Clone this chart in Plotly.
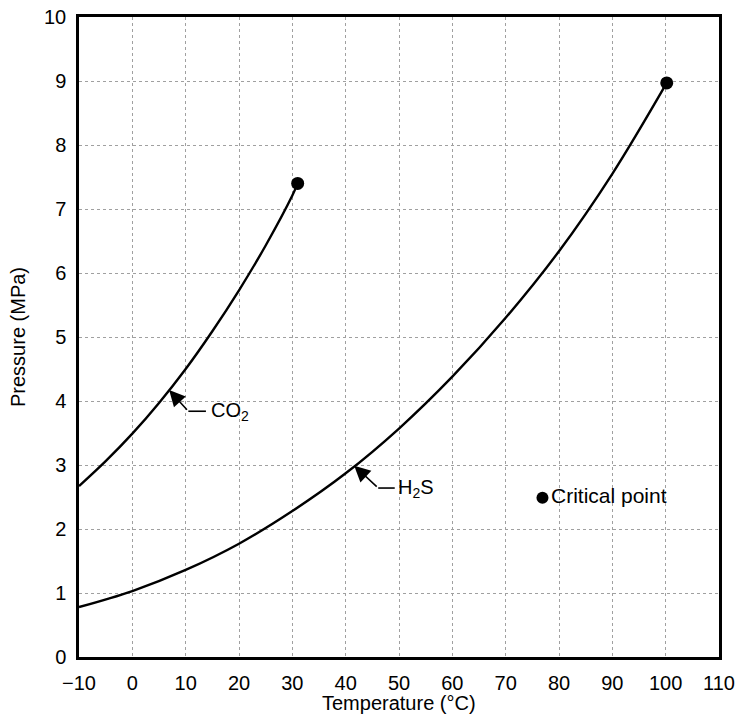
import plotly.graph_objects as go

# Saturation (vapour-pressure) curves, temperature in °C, pressure in MPa
co2_temp = [-10, -5, 0, 5, 10, 15, 20, 25, 30, 31]
co2_pres = [2.67, 3.06, 3.49, 3.97, 4.50, 5.09, 5.73, 6.43, 7.21, 7.40]

h2s_temp = [-10, 0, 10, 20, 30, 40, 50, 60, 70, 80, 90, 100.2]
h2s_pres = [0.78, 1.03, 1.36, 1.77, 2.28, 2.87, 3.57, 4.38, 5.30, 6.34, 7.55, 8.97]

# Critical points (end of each curve)
crit_temp = [31.0, 100.2]
crit_pres = [7.40, 8.97]

x_ticks = list(range(-10, 111, 10))
x_tick_text = ["\u221210" if v < 0 else str(v) for v in x_ticks]
y_ticks = list(range(0, 11))

FONT = "Liberation Sans, Arial, sans-serif"
FS = 20

fig = go.Figure()

fig.add_trace(go.Scatter(x=co2_temp, y=co2_pres, mode="lines",
                         line=dict(color="black", width=2.4, shape="spline", smoothing=1.0),
                         hoverinfo="skip", showlegend=False))
fig.add_trace(go.Scatter(x=h2s_temp, y=h2s_pres, mode="lines",
                         line=dict(color="black", width=2.4, shape="spline", smoothing=1.0),
                         hoverinfo="skip", showlegend=False))
fig.add_trace(go.Scatter(x=crit_temp, y=crit_pres, mode="markers",
                         marker=dict(color="black", size=13),
                         hoverinfo="skip", showlegend=False))

# Legend entry for the critical point, placed inside the plot
fig.add_trace(go.Scatter(x=[76.9], y=[2.49], mode="markers+text",
                         marker=dict(color="black", size=12),
                         text=["Critical point"], textposition="middle right",
                         textfont=dict(family=FONT, size=21, color="black"),
                         hoverinfo="skip", showlegend=False))

# Leader lines: arrow segment + horizontal tail, then the label
leaders = [
    # tip (on curve), bend, tail end, label x, label text
    dict(tip=(6.9, 4.17), bend=(10.5, 3.84), end=13.8, lx=14.4, text="CO<sub>2</sub>"),
    dict(tip=(41.6, 2.99), bend=(46.1, 2.64), end=49.2, lx=49.5, text="H<sub>2</sub>S"),
]
for ld in leaders:
    bx, by = ld["bend"]
    fig.add_trace(go.Scatter(x=[bx, ld["end"]], y=[by, by], mode="lines",
                             line=dict(color="black", width=1.6),
                             hoverinfo="skip", showlegend=False))
    fig.add_annotation(x=ld["tip"][0], y=ld["tip"][1], ax=bx, ay=by,
                       axref="x", ayref="y", xref="x", yref="y",
                       text="", showarrow=True, arrowhead=2, arrowsize=2.0,
                       arrowwidth=1.6, arrowcolor="black", standoff=0)
    fig.add_annotation(x=ld["lx"], y=by, xref="x", yref="y", text=ld["text"],
                       showarrow=False, xanchor="left", yanchor="middle",
                       font=dict(family=FONT, size=FS, color="black"))

# X-axis title placed just under the tick labels
fig.add_annotation(x=0.5, y=-0.072, xref="paper", yref="paper",
                   text="Temperature (°C)", showarrow=False,
                   xanchor="center", yanchor="middle",
                   font=dict(family=FONT, size=FS, color="black"))

axis_common = dict(
    showline=True, linecolor="black", linewidth=2.5, mirror=True,
    showgrid=True, gridcolor="#a0a0a0", gridwidth=1, griddash="dot",
    zeroline=False, ticks="", automargin=False,
    tickfont=dict(family=FONT, size=FS, color="black"),
)

fig.update_xaxes(range=[-10, 110], tickvals=x_ticks, ticktext=x_tick_text,
                 ticklabelstandoff=6, **axis_common)
fig.update_yaxes(range=[0, 10], tickvals=y_ticks,
                 title=dict(text="Pressure (MPa)", standoff=14,
                            font=dict(family=FONT, size=FS, color="black")),
                 ticklabelstandoff=6, **axis_common)

fig.update_layout(width=737, height=722,
                  margin=dict(l=79, r=18, t=17, b=65),
                  paper_bgcolor="white", plot_bgcolor="white")

fig.write_html("out.html")
